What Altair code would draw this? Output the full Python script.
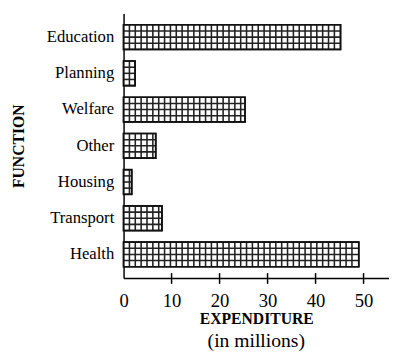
import altair as alt
import pandas as pd
import numpy as np

functions = ["Education", "Planning", "Welfare", "Other", "Housing", "Transport", "Health"]
expenditure = [45.2, 2.4, 25.3, 6.7, 1.7, 8.0, 49.0]
x_ticks = [0, 10, 20, 30, 40, 50]
inner_ticks = [10, 20, 30, 40, 50]

FONT = "Liberation Serif"
CELL = 1.22  # width of one hatch cell, in data units

bars_df = pd.DataFrame({"Function": functions, "Expenditure": expenditure})
grid_rows = []
for f, v in zip(functions, expenditure):
    for p in np.arange(CELL, v - 0.3, CELL):
        grid_rows.append({"Function": f, "pos": float(p)})
grid_df = pd.DataFrame(grid_rows)
ticks_df = pd.DataFrame({"t": inner_ticks})

yscale = alt.Scale(domain=functions, paddingInner=0.32, paddingOuter=0.31)
xscale = alt.Scale(domain=[0, 55.3], nice=False, zero=True)

y_enc = alt.Y(
    "Function:N",
    scale=yscale,
    sort=functions,
    axis=alt.Axis(
        title="FUNCTION",
        titleFont=FONT,
        titleFontSize=16,
        titleFontWeight="bold",
        titleColor="black",
        titleX=-107,
        titleY=135,
        titleAngle=-90,
        titleAlign="center",
        titleBaseline="middle",
        labelFont=FONT,
        labelFontSize=17,
        labelColor="black",
        labelPadding=10,
        ticks=False,
        domainColor="black",
        domainWidth=1.5,
        grid=False,
    ),
)

x_enc = alt.X(
    "Expenditure:Q",
    scale=xscale,
    axis=alt.Axis(
        values=x_ticks,
        title="EXPENDITURE",
        titleFont=FONT,
        titleFontSize=16,
        titleFontWeight="bold",
        titleColor="black",
        titlePadding=0,
        labelFont=FONT,
        labelFontSize=19,
        labelColor="black",
        labelPadding=14,
        labelFlush=False,
        ticks=False,
        domainColor="black",
        domainWidth=1.5,
        grid=False,
    ),
)

bars = alt.Chart(bars_df).mark_bar(
    fill="white", stroke="#111111", strokeWidth=1.6, cornerRadius=0
).encode(x=x_enc, y=y_enc)

vlines = alt.Chart(grid_df).mark_tick(
    color="#222222", size=25, thickness=1.6, opacity=1
).encode(x=alt.X("pos:Q", scale=xscale), y=alt.Y("Function:N", scale=yscale, sort=functions))

hlayers = []
for off in [-6.25, 0, 6.25]:
    hlayers.append(
        alt.Chart(bars_df).mark_rule(color="#222222", strokeWidth=1.6, yOffset=off).encode(
            x=alt.X("zero:Q", scale=xscale),
            x2="Expenditure:Q",
            y=alt.Y("Function:N", scale=yscale, sort=functions),
        ).transform_calculate(zero="0")
    )

outline = alt.Chart(bars_df).mark_bar(
    fill="transparent", stroke="#111111", strokeWidth=1.7
).encode(x=alt.X("Expenditure:Q", scale=xscale), y=alt.Y("Function:N", scale=yscale, sort=functions))

cross_ticks = alt.Chart(ticks_df).mark_rule(color="black", strokeWidth=1.5).encode(
    x=alt.X("t:Q", scale=xscale),
    y=alt.value(265),
    y2=alt.value(276),
)

chart = alt.layer(bars, vlines, *hlayers, outline, cross_ticks).properties(
    width=271,
    height=270,
    background="white",
    autosize=alt.AutoSizeParams(type="none"),
    padding={"left": 118, "top": 2, "right": 0, "bottom": 78},
    title=alt.TitleParams(
        "(in millions)",
        orient="bottom",
        font=FONT,
        fontSize=20,
        fontWeight="normal",
        color="black",
        offset=5,
        anchor="middle",
    ),
).configure_view(strokeWidth=0, stroke="transparent")

chart.save("out.html", embed_options={"renderer": "svg", "actions": False})
